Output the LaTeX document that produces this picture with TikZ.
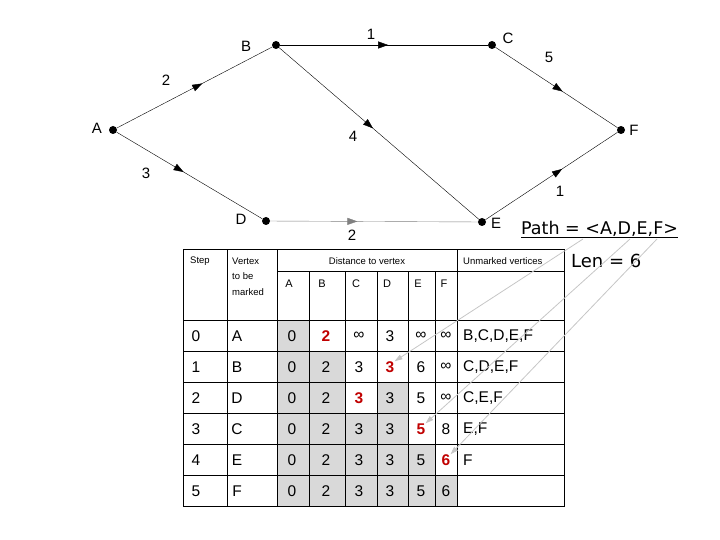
\documentclass[tikz,border=0pt]{standalone}
\usepackage{fontspec}
\setmainfont{Liberation Sans}
\newfontfamily\pathfont{DejaVu Sans}
\usepackage{xcolor}
\usetikzlibrary{arrows.meta,decorations.markings}
\definecolor{pathred}{HTML}{C00000}
\definecolor{cellgray}{HTML}{D9D9D9}
\newcommand\redval[1]{\textcolor{pathred}{\textbf{#1}}}
\newcommand\infdist{\raisebox{-1.5pt}{\char"221E}}

\begin{document}
\begin{tikzpicture}[x=1pt,y=-1pt,
  vtx/.style={circle,fill,inner sep=0pt,minimum size=8pt},
  vlab/.style={font=\fontsize{15}{15}\selectfont,inner sep=0pt},
  edge/.style={thin,postaction={decorate},decoration={markings,
    mark=at position #1 with {\arrow{Triangle[length=10pt,width=7pt]}}}},
  edge/.default=0.5,
  hd/.style={font=\fontsize{9.5}{10}\selectfont,inner sep=0pt},
  cell/.style={font=\fontsize{15.5}{15}\selectfont,inner sep=0pt},
  ptr/.style={-{Triangle[length=8pt,width=5pt]},gray!45,thick}
]
\useasboundingbox (0,0) rectangle (720,540);
\node[vtx] (A) at (113,130) {};
\node[vtx] (B) at (276,45) {};
\node[vtx] (C) at (492,45) {};
\node[vtx] (D) at (266,221) {};
\node[vtx] (E) at (482,222) {};
\node[vtx] (F) at (621,130) {};
\node[vlab] (lA) at (97,128) {A};
\node[vlab] (lB) at (246,46) {B};
\node[vlab] (lC) at (508,38) {C};
\node[vlab] (lD) at (241,219) {D};
\node[vlab] (lE) at (496,223) {E};
\node[vlab] (lF) at (634,130) {F};
\draw[edge=0.55] (A) -- (B);
\draw[edge=0.52] (B) -- (C);
\draw[edge=0.55] (C) -- (F);
\draw[edge=0.46] (A) -- (D);
\draw[edge=0.47] (B) -- (E);
\draw[edge=0.42,gray] (D) -- (E);
\draw[edge=0.58] (E) -- (F);
\node[vlab] (wAB) at (166,80) {2};
\node[vlab] (wBC) at (371,34) {1};
\node[vlab] (wCF) at (549,57) {5};
\node[vlab] (wAD) at (146,173) {3};
\node[vlab] (wBE) at (353,136) {4};
\node[vlab] (wDE) at (352,235) {2};
\node[vlab] (wEF) at (560,191) {1};

\foreach \l/\r/\t in {277/309/320,309/345/351,345/377/413,377/408/382,408/435/444,435/457/475}
  \fill[cellgray] (\l,\t) rectangle (\r,506);
\draw (183,249) rectangle (564,506);
\foreach \y in {320,351,382,413,444,475}
  \draw (183,\y) -- (564,\y);
\draw (277,271) -- (564,271);
\foreach \x in {227,277,457}
  \draw (\x,249) -- (\x,506);
\foreach \x in {309,345,377,408,435}
  \draw (\x,271) -- (\x,506);

\node[hd,anchor=west] (hstep) at (190,261) {Step};
\node[hd,anchor=west] (hvtx) at (232,261) {Vertex};
\node[hd,anchor=west] (htobe) at (232,276) {to be};
\node[hd,anchor=west] (hmark) at (232,292) {marked};
\node[hd] (hdist) at (367,261) {Distance to vertex};
\node[hd,anchor=west] (hunm) at (463,261) {Unmarked vertices};
\foreach \n/\x in {A/289,B/322,C/356,D/387,E/418,F/444}
  \node[hd,font=\fontsize{11}{11}\selectfont] (h\n) at (\x,284) {\n};

\foreach \s/\v/\a/\b/\c/\d/\e/\f/\u [count=\i from 0] in {
  0/A/0/\redval{2}/\infdist/3/\infdist/\infdist/{B,C,D,E,F},
  1/B/0/2/3/\redval{3}/6/\infdist/{C,D,E,F},
  2/D/0/2/\redval{3}/3/5/\infdist/{C,E,F},
  3/C/0/2/3/3/\redval{5}/8/{E,F},
  4/E/0/2/3/3/5/\redval{6}/F,
  5/F/0/2/3/3/5/6/{}}{
  \node[cell] (s\i) at (196,336+31*\i) {\s};
  \node[cell] (v\i) at (237,336+31*\i) {\v};
  \node[cell] (a\i) at (292,336+31*\i) {\a};
  \node[cell] (b\i) at (326,336+31*\i) {\b};
  \node[cell] (c\i) at (359,336+31*\i) {\c};
  \node[cell] (d\i) at (390,336+31*\i) {\d};
  \node[cell] (e\i) at (421,336+31*\i) {\e};
  \node[cell] (f\i) at (446,336+31*\i) {\f};
  \node[cell,anchor=west] (u\i) at (463,336+31*\i) {\u};
}

\node[font=\pathfont\fontsize{17.5}{17}\selectfont,anchor=base west,inner sep=0pt]
  (path) at (521,234) {\underline{Path = <A,D,E,F>}};
\node[font=\pathfont\fontsize{18}{18}\selectfont,anchor=base west,inner sep=0pt]
  (len) at (571,267) {Len = 6};
\coordinate (p1) at (583,239);
\coordinate (p2) at (630,239);
\coordinate (p3) at (657,239);
\draw[ptr] (p1) -- (d1.north east);
\draw[ptr] (p2) -- (e3.north east);
\draw[ptr] (p3) -- (f4.north east);
\end{tikzpicture}
\end{document}
